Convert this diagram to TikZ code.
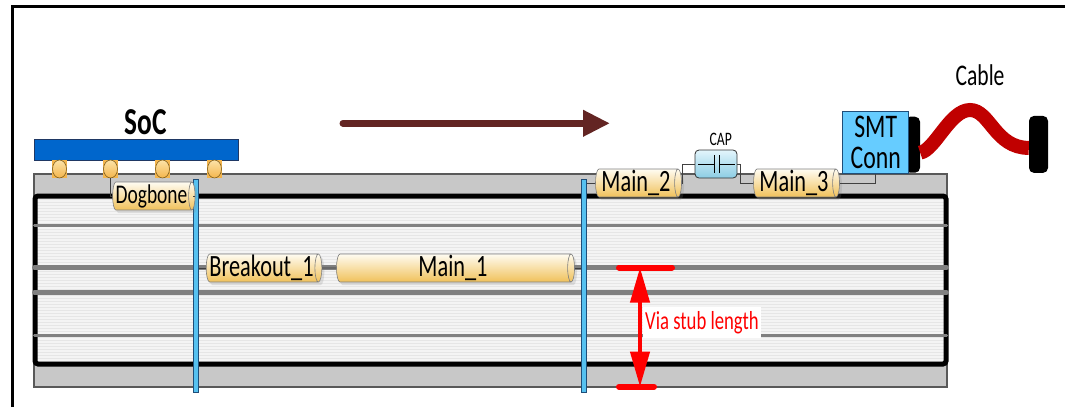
\documentclass[tikz,border=0pt]{standalone}
\usepackage{fontspec}
\setmainfont{Carlito}[FakeStretch=0.72]
\usepackage{tikz}
\usetikzlibrary{arrows.meta, positioning, shapes.geometric, shadows}
\definecolor{boardfill}{HTML}{C8C8C8}
\definecolor{boardline}{HTML}{595959}
\definecolor{corefill}{HTML}{F4F4F4}
\definecolor{corestripe}{HTML}{E6E6E6}
\definecolor{planeline}{HTML}{808080}
\definecolor{viafill}{HTML}{56C1F0}
\definecolor{vialine}{HTML}{1F4E79}
\definecolor{socfill}{HTML}{0066CC}
\definecolor{socline}{HTML}{1F3864}
\definecolor{ballfill}{HTML}{F4B54C}
\definecolor{balllight}{HTML}{FCE3A8}
\definecolor{ballline}{HTML}{7F5F1F}
\definecolor{segtop}{HTML}{FFFCF2}
\definecolor{segbot}{HTML}{F0C15A}
\definecolor{segline}{HTML}{7F7F7F}
\definecolor{captop}{HTML}{E3F5FC}
\definecolor{capbot}{HTML}{8CCDE4}
\definecolor{connfill}{HTML}{66CCFF}
\definecolor{cablered}{HTML}{C00000}
\definecolor{flowbrown}{HTML}{632523}
\definecolor{stubred}{HTML}{FF0000}
\tikzset{
  board/.style   = {fill=boardfill, draw=boardline, line width=1.5pt},
  stripeline/.style = {draw=corestripe, line width=0.8pt},
  plane/.style   = {draw=planeline, line cap=round},
  via/.style     = {rectangle, fill=viafill, draw=vialine, line width=0.8pt,
                    minimum width=5.5, inner sep=0pt},
  socblk/.style  = {rectangle, fill=socfill, draw=socline, line width=0.8pt, inner sep=0pt},
  ball/.style    = {ellipse, draw=ballline, line width=0.6pt, top color=balllight,
                    bottom color=ballfill, minimum width=14, minimum height=18, inner sep=0pt},
  seg/.style     = {cylinder, shape aspect=0.25, draw=segline, line width=0.6pt,
                    top color=segtop, bottom color=segbot, minimum width=28, inner sep=1pt,
                    font=\fontsize{31}{31}\selectfont,
                    drop shadow={shadow xshift=2.5pt, shadow yshift=-3pt, opacity=0.2}},
  capblk/.style  = {rectangle, rounded corners=4pt, draw=black!80, line width=0.8pt,
                    top color=captop, bottom color=capbot, minimum width=42, minimum height=28},
  capsym/.style  = {draw=black, line width=1pt},
  smtblk/.style  = {rectangle, fill=connfill, draw=vialine, line width=0.8pt, align=center,
                    font=\fontsize{33}{31}\selectfont, inner sep=0pt},
  plug/.style    = {rectangle, rounded corners=5pt, fill=black, inner sep=0pt},
  cable/.style   = {draw=cablered, line width=14pt},
  wire/.style    = {draw=black!75, line width=0.8pt},
  flow/.style    = {-{Triangle[length=27pt, width=25pt]}, draw=flowbrown, line width=7pt, line cap=round},
  stubbar/.style = {draw=stubred, line width=6pt, line cap=round},
  stubarrow/.style = {{Triangle[length=35pt, width=19pt]}-{Triangle[length=35pt, width=19pt]},
                    draw=stubred, line width=4pt},
  lbl/.style     = {inner sep=0pt, font=\fontsize{30}{30}\selectfont},
}
\begin{document}
\begin{tikzpicture}[x=1pt, y=-1pt]
  \useasboundingbox (0,0) rectangle (1065,407);
  \draw[line width=3pt] (12,407) |- (1065,6.5);

  % board stack-up
  \draw[board] (34,174) rectangle (947,387);
  \fill[corefill] (35,196) rectangle (946,364);
  \foreach \y in {199,202,...,361}{\draw[stripeline] (37,\y) -- (944,\y);}
  \draw[line width=5pt, rounded corners=3pt] (35,196) rectangle (946,364);
  \foreach \y/\w in {225/3pt, 267.5/5pt, 292.5/5pt, 335/3pt}{\draw[plane, line width=\w] (34.5,\y) -- (946.5,\y);}

  \node[via, minimum height=213] (via1) at (196,286.3) {};
  \node[via, minimum height=213] (via2) at (583.7,286.3) {};

  % package and balls
  \node[socblk, minimum width=204, minimum height=21] (soc) at (136,149.5) {};
  \node[lbl, font=\fontsize{38}{38}\selectfont\bfseries] (soclbl) at (146,122.5) {SoC};
  \foreach \i/\x in {1/59.5, 2/110.5, 3/162.5, 4/214.5}{
    \fill[ballfill] (\x-7.5,160) rectangle (\x+7.5,178);
    \node[ball] (b\i) at (\x,169) {};
  }

  % trace segments
  \node[seg, minimum height=77, font=\fontsize{27}{27}\selectfont] (dog) at (151.5,196) {Dogbone};
  \node[seg, minimum height=113] (bo1) at (261.5,268) {Breakout\_1};
  \node[seg, minimum height=238] (mn1) at (453,268) {Main\_1};
  \node[seg, minimum height=86] (m2) at (636,183) {Main\_2};
  \node[seg, minimum height=86] (m3) at (794,183) {Main\_3};
  \node[capblk] (cap) at (716,164) {};
  \draw[capsym] (cap.center) ++(-18,0) -- ++(16,0) ++(0,-9) -- ++(0,18) ++(5,0) -- ++(0,-18) ++(0,9) -- ++(16,0);
  \node[lbl, font=\fontsize{19}{19}\selectfont] (caplbl) at (720.7,139) {CAP};

  \draw[wire] (b2.south) |- (dog.west);
  \draw[wire] (dog.east) -- (dog.east -| via1.west);
  \draw[wire] (via1.east |- bo1.west) -- (bo1.west);
  \draw[wire] (bo1.east) -- (mn1.west);
  \draw[wire] (mn1.east) -- (mn1.east -| via2.west);
  \draw[wire] (via2.east |- m2.west) -- (m2.west);
  \draw[wire] (m2.east) -- ++(1,0) |- (cap.west);
  \draw[wire] (cap.east) -- ++(3,0) |- (m3.west);

  % connector and cable
  \node[plug, minimum width=15, minimum height=56] (plugl) at (912.5,144.7) {};
  \node[plug, minimum width=19, minimum height=57] (plugr) at (1038.5,144.4) {};
  \node[smtblk, minimum width=66, minimum height=61.5] (smt) at (875.7,142.5) {SMT\\Conn};
  \draw[wire] (m3.east) -| (smt.south);
  \draw[cable] ([yshift=-8pt]plugl.east) .. controls (935,150) and (950,110) .. (970,110)
    .. controls (990,110) and (995,148) .. ([yshift=-3.5pt]plugr.west);
  \node[lbl] (cablelbl) at (980,75) {Cable};

  % signal direction
  \coordinate (flowstart) at (343,123.3);
  \coordinate (flowend) at (610,123.3);
  \draw[flow] (flowstart) -- (flowend);

  % stub length
  \coordinate (stubtop) at (640,267.5);
  \coordinate (stubbot) at (640,386.7);
  \draw[stubbar] (stubtop) ++(-21,0) -- ++(53,0);
  \draw[stubbar] (stubbot) ++(-21,0) -- ++(35,0);
  \draw[stubarrow] (stubtop) -- (stubbot);
  \node[lbl, anchor=west, fill=white, inner sep=2pt, minimum height=31, text=stubred,
        font=\fontsize{26}{26}\selectfont] (stublbl) at (643,322.5) {Via stub length};
\end{tikzpicture}
\end{document}
